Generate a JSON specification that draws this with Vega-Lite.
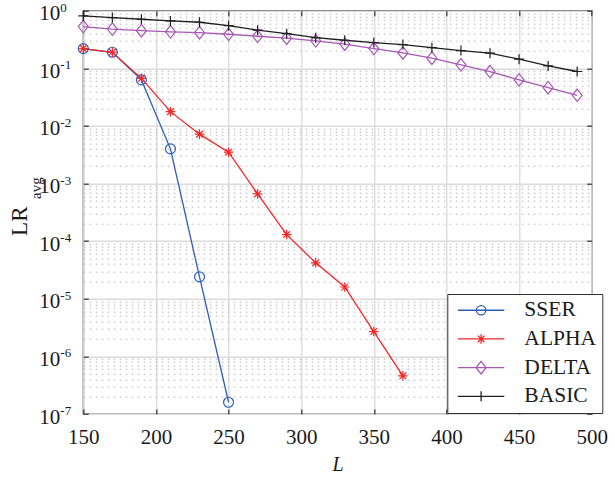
{
  "$schema": "https://vega.github.io/schema/vega-lite/v6.json",
  "width": 508.4,
  "height": 403.3,
  "autosize": {"type": "none"},
  "padding": {"left": 83.3, "top": 10.7, "right": 23.3, "bottom": 63},
  "background": "white",
  "config": {
    "view": {"stroke": "#3c3c3c", "strokeWidth": 1.4},
    "axis": {
      "labelFont": "Liberation Serif",
      "titleFont": "Liberation Serif",
      "labelColor": "#1a1a1a",
      "titleColor": "#1a1a1a",
      "tickColor": "#3c3c3c",
      "tickWidth": 1.3,
      "titleFontWeight": "normal"
    }
  },
  "data": {
    "values": [
      {"series": "SSER", "L": 150, "v": 0.22},
      {"series": "SSER", "L": 170, "v": 0.19},
      {"series": "SSER", "L": 190, "v": 0.063},
      {"series": "SSER", "L": 210, "v": 0.0040},
      {"series": "SSER", "L": 230, "v": 2.4e-5},
      {"series": "SSER", "L": 250, "v": 1.6e-7},
      {"series": "ALPHA", "L": 150, "v": 0.22},
      {"series": "ALPHA", "L": 170, "v": 0.19},
      {"series": "ALPHA", "L": 190, "v": 0.067},
      {"series": "ALPHA", "L": 210, "v": 0.0177},
      {"series": "ALPHA", "L": 230, "v": 0.0072},
      {"series": "ALPHA", "L": 250, "v": 0.0035},
      {"series": "ALPHA", "L": 270, "v": 6.6e-4},
      {"series": "ALPHA", "L": 290, "v": 1.3e-4},
      {"series": "ALPHA", "L": 310, "v": 4.2e-5},
      {"series": "ALPHA", "L": 330, "v": 1.6e-5},
      {"series": "ALPHA", "L": 350, "v": 2.7e-6},
      {"series": "ALPHA", "L": 370, "v": 4.6e-7},
      {"series": "DELTA", "L": 150, "v": 0.53},
      {"series": "DELTA", "L": 170, "v": 0.48},
      {"series": "DELTA", "L": 190, "v": 0.45},
      {"series": "DELTA", "L": 210, "v": 0.43},
      {"series": "DELTA", "L": 230, "v": 0.415},
      {"series": "DELTA", "L": 250, "v": 0.39},
      {"series": "DELTA", "L": 270, "v": 0.36},
      {"series": "DELTA", "L": 290, "v": 0.333},
      {"series": "DELTA", "L": 310, "v": 0.30},
      {"series": "DELTA", "L": 330, "v": 0.262},
      {"series": "DELTA", "L": 350, "v": 0.22},
      {"series": "DELTA", "L": 370, "v": 0.185},
      {"series": "DELTA", "L": 390, "v": 0.15},
      {"series": "DELTA", "L": 410, "v": 0.115},
      {"series": "DELTA", "L": 430, "v": 0.088},
      {"series": "DELTA", "L": 450, "v": 0.063},
      {"series": "DELTA", "L": 470, "v": 0.046},
      {"series": "DELTA", "L": 490, "v": 0.034},
      {"series": "BASIC", "L": 150, "v": 0.81},
      {"series": "BASIC", "L": 170, "v": 0.76},
      {"series": "BASIC", "L": 190, "v": 0.71},
      {"series": "BASIC", "L": 210, "v": 0.665},
      {"series": "BASIC", "L": 230, "v": 0.63},
      {"series": "BASIC", "L": 250, "v": 0.55},
      {"series": "BASIC", "L": 270, "v": 0.46},
      {"series": "BASIC", "L": 290, "v": 0.40},
      {"series": "BASIC", "L": 310, "v": 0.34},
      {"series": "BASIC", "L": 330, "v": 0.307},
      {"series": "BASIC", "L": 350, "v": 0.28},
      {"series": "BASIC", "L": 370, "v": 0.258},
      {"series": "BASIC", "L": 390, "v": 0.228},
      {"series": "BASIC", "L": 410, "v": 0.203},
      {"series": "BASIC", "L": 430, "v": 0.183},
      {"series": "BASIC", "L": 450, "v": 0.144},
      {"series": "BASIC", "L": 470, "v": 0.11},
      {"series": "BASIC", "L": 490, "v": 0.088}
    ]
  },
  "layer": [
    {
      "encoding": {
        "x": {
          "field": "L", "type": "quantitative",
          "scale": {"domain": [150, 500]},
          "axis": {
            "values": [150, 200, 250, 300, 350, 400, 450, 500],
            "grid": true, "gridColor": "#dcdcdc", "gridWidth": 1.4,
            "domain": false, "tickSize": -5,
            "labelFontSize": 21, "labelPadding": 17.5, "labelFlush": false,
            "title": "L", "titleFontSize": 20, "titleFontStyle": "italic", "titlePadding": 7
          }
        },
        "y": {
          "field": "v", "type": "quantitative",
          "scale": {"type": "log", "domain": [1e-7, 1]},
          "axis": {
            "values": [1e-7, 1e-6, 1e-5, 1e-4, 1e-3, 1e-2, 1e-1, 1],
            "grid": false, "domain": false, "tickSize": -5,
            "labelExpr": "'10'", "labelFontSize": 21, "labelBaseline": "middle",
            "labelOffset": 3, "labelPadding": 28.5, "labelOverlap": false,
            "title": "LR", "titleFontSize": 23, "titleAngle": -90,
            "titleBaseline": "alphabetic", "titleAlign": "center",
            "titleX": -57, "titleY": 210
          }
        },
        "color": {
          "field": "series", "type": "nominal",
          "scale": {
            "domain": ["SSER", "ALPHA", "DELTA", "BASIC"],
            "range": ["#2f5db8", "#f02828", "#a759b4", "#1f1f1f"]
          },
          "legend": null
        }
      },
      "layer": [
        {"mark": {"type": "line", "strokeWidth": 1.3}},
        {
          "mark": {"type": "point", "filled": false, "opacity": 1, "strokeWidth": 1.2, "size": 100},
          "encoding": {
            "shape": {
              "field": "series", "type": "nominal",
              "scale": {
                "domain": ["SSER", "ALPHA", "DELTA", "BASIC"],
                "range": [
                  "circle",
                  "M-0.95,0H0.95M0,-0.95V0.95M-0.67,-0.67L0.67,0.67M-0.67,0.67L0.67,-0.67",
                  "M0,-1.25L1,0L0,1.25L-1,0Z",
                  "M-1,0H1M0,-1V1"
                ]
              },
              "legend": null
            }
          }
        }
      ]
    },
    {
      "transform": [{"filter": "false"}],
      "mark": {"type": "point", "filled": false, "opacity": 1, "strokeWidth": 1.3, "size": 100},
      "encoding": {
        "x": {
          "field": "L", "type": "quantitative",
          "scale": {"domain": [150, 500]},
          "axis": {
            "orient": "top", "values": [150, 200, 250, 300, 350, 400, 450, 500],
            "labels": false, "grid": false, "domain": false, "tickSize": -5, "title": null
          }
        },
        "y": {
          "field": "v", "type": "quantitative",
          "scale": {"type": "log", "domain": [1e-7, 1]},
          "axis": {
            "orient": "right", "values": [1e-7, 1e-6, 1e-5, 1e-4, 1e-3, 1e-2, 1e-1, 1],
            "labels": false, "grid": false, "domain": false, "tickSize": -5, "title": null
          }
        },
        "color": {
          "field": "series", "type": "nominal",
          "scale": {
            "domain": ["SSER", "ALPHA", "DELTA", "BASIC"],
            "range": ["#2f5db8", "#f02828", "#a759b4", "#1f1f1f"]
          },
          "legend": {
            "title": null, "orient": "none", "legendX": 364, "legendY": 283.3,
            "direction": "vertical",
            "symbolSize": 100, "symbolStrokeWidth": 1.3, "symbolOffset": 17.55,
            "labelFont": "Liberation Serif", "labelFontSize": 21.5, "labelColor": "#1a1a1a",
            "labelOffset": 32.5, "rowPadding": 5.7, "padding": 5.5,
            "strokeColor": "#333333", "fillColor": "white",
            "encode": {"legend": {"update": {"strokeWidth": {"value": 1.3}}}}
          }
        },
        "shape": {
          "field": "series", "type": "nominal",
          "scale": {
            "domain": ["SSER", "ALPHA", "DELTA", "BASIC"],
            "range": [
              "M-4.64,0H4.64M-0.94,0A0.94,0.94,0,1,0,0.94,0A0.94,0.94,0,1,0,-0.94,0",
              "M-4.64,0H4.64M0,-0.95V0.95M-0.67,-0.67L0.67,0.67M-0.67,0.67L0.67,-0.67",
              "M-4.64,0H4.64M0,-1.25L1,0L0,1.25L-1,0Z",
              "M-4.64,0H4.64M0,-1V1"
            ]
          },
          "legend": {
            "title": null, "orient": "none", "legendX": 364, "legendY": 283.3,
            "direction": "vertical",
            "symbolSize": 100, "symbolStrokeWidth": 1.3, "symbolOffset": 17.55,
            "labelFont": "Liberation Serif", "labelFontSize": 21.5, "labelColor": "#1a1a1a",
            "labelOffset": 32.5, "rowPadding": 5.7, "padding": 5.5,
            "strokeColor": "#333333", "fillColor": "white",
            "encode": {"legend": {"update": {"strokeWidth": {"value": 1.3}}}}
          }
        }
      }
    },
    {
      "transform": [{"filter": "false"}],
      "mark": {"type": "point", "opacity": 0},
      "encoding": {
        "y": {
          "field": "v", "type": "quantitative",
          "scale": {"type": "log", "domain": [1e-7, 1]},
          "axis": {
            "orient": "left",
            "values": [1e-7, 2e-7, 3e-7, 4e-7, 5e-7, 6e-7, 7e-7, 8e-7, 9e-7,
                       1e-6, 2e-6, 3e-6, 4e-6, 5e-6, 6e-6, 7e-6, 8e-6, 9e-6,
                       1e-5, 2e-5, 3e-5, 4e-5, 5e-5, 6e-5, 7e-5, 8e-5, 9e-5,
                       1e-4, 2e-4, 3e-4, 4e-4, 5e-4, 6e-4, 7e-4, 8e-4, 9e-4,
                       1e-3, 2e-3, 3e-3, 4e-3, 5e-3, 6e-3, 7e-3, 8e-3, 9e-3,
                       1e-2, 2e-2, 3e-2, 4e-2, 5e-2, 6e-2, 7e-2, 8e-2, 9e-2,
                       0.1, 0.2, 0.3, 0.4, 0.5, 0.6, 0.7, 0.8, 0.9, 1],
            "grid": true,
            "gridColor": {"condition": {"test": "abs(log(datum.value)/LN10 - round(log(datum.value)/LN10)) < 0.001", "value": "#dcdcdc"}, "value": "#b4b4b4"},
            "gridDash": {"condition": {"test": "abs(log(datum.value)/LN10 - round(log(datum.value)/LN10)) < 0.001", "value": []}, "value": [1.5, 4.5]},
            "gridWidth": {"condition": {"test": "abs(log(datum.value)/LN10 - round(log(datum.value)/LN10)) < 0.001", "value": 1.4}, "value": 1},
            "ticks": false, "domain": false,
            "labelExpr": "abs(log(datum.value)/LN10 - round(log(datum.value)/LN10)) < 0.001 ? '' + round(log(datum.value)/LN10) : ''",
            "labelFontSize": 13, "labelAlign": "left", "labelBaseline": "middle",
            "labelPadding": 23.5, "labelOffset": -3.5, "labelOverlap": false,
            "title": "avg", "titleFontSize": 15, "titleAngle": -90,
            "titleBaseline": "alphabetic", "titleAlign": "center",
            "titleX": -43, "titleY": 177
          }
        }
      }
    }
  ],
  "resolve": {"scale": {"x": "independent", "y": "independent", "shape": "independent", "color": "independent"}}
}
